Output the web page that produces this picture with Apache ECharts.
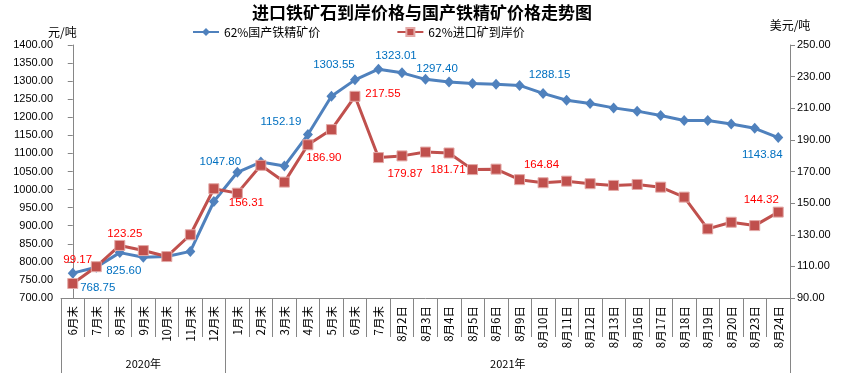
<!DOCTYPE html>
<html><head><meta charset="utf-8">
<script src="https://cdn.jsdelivr.net/npm/echarts@6/dist/echarts.min.js"></script>
<style>html,body{margin:0;padding:0;background:#fff}#c{width:844px;height:373px}</style>
</head><body><div id="c"></div>
<script>
const categories = ['6月末','7月末','8月末','9月末','10月末','11月末','12月末','1月末','2月末','3月末','4月末','5月末','6月末','7月末','8月2日','8月3日','8月4日','8月5日','8月6日','8月9日','8月10日','8月11日','8月12日','8月13日','8月16日','8月17日','8月18日','8月19日','8月20日','8月23日','8月24日'];
const domesticPrice = [768.75,785,825.60,812.6,814.6,829,967,1047.80,1076,1065,1152.19,1258,1303.55,1333,1323.01,1305,1297.40,1293.5,1291.5,1288.15,1266,1247,1238,1226,1217,1205,1191,1191,1181.5,1169.5,1143.84];
const importPrice = [99.17,109.8,123.25,120.0,116.2,130.0,159.1,156.31,173.9,163.3,186.90,196.5,217.55,178.8,179.87,182.3,181.71,171.2,171.5,164.84,162.9,163.9,162.3,161.2,161.8,160.1,153.8,133.7,137.9,135.8,144.32];
const yearGroups = ['2020年','2021年'];
const yearGroupSizes = [7, 24];
const seriesNames = ['62%国产铁精矿价','62%进口矿到岸价'];
const leftAxisRange = [700, 1400, 50];
const rightAxisRange = [90, 250, 20];

// label placement (style only): index -> [dx, dy]
const domesticLabelOffsets = {0:[25,15],2:[4,18],7:[-17,-10],10:[-27,-13],12:[-21,-15],14:[-6,-17],16:[-12,-13],19:[30,-11],30:[-16,17]};
const importLabelOffsets = {0:[5,-24],2:[5,-12],7:[9,10],10:[16,13],12:[28,-2],14:[3,18],16:[-1,17],19:[22,-15],30:[-17,-12]};

function buildData(values, offsets, color) {
  return values.map((v, i) => {
    const o = offsets[i];
    if (!o) return v;
    return {value: v, label: {show: true, position: 'inside', offset: o, color: color,
      fontSize: 11.5, fontFamily: 'Liberation Sans', align: 'center', verticalAlign: 'middle',
      formatter: p => p.value.toFixed(2)}};
  });
}

// group boundaries & centres (category index space)
const groupTicks = [-0.5];
const groupCenters = [];
let acc = -0.5;
yearGroupSizes.forEach(n => { groupCenters.push(acc + n / 2); acc += n; groupTicks.push(acc); });

const axisGray = '#868686';
const chart = echarts.init(document.getElementById('c'), null, {renderer: 'canvas'});
chart.setOption({
  animation: false,
  backgroundColor: '#fff',
  title: {text: '进口铁矿石到岸价格与国产铁精矿价格走势图', left: 'center', top: -1,
    textStyle: {fontSize: 17, fontWeight: 'bold', color: '#000', fontFamily: 'Noto Sans CJK SC'}},
  legend: {left: 187, top: 21, itemWidth: 26, itemHeight: 10, itemGap: 76,
    textStyle: {fontSize: 12, color: '#000', fontFamily: 'Noto Sans CJK SC'},
    data: seriesNames},
  grid: {left: 61, right: 54, top: 45, bottom: 75, containLabel: false},
  xAxis: [{
    type: 'category', data: categories, boundaryGap: true, position: 'bottom',
    axisLine: {lineStyle: {color: axisGray, width: 1}},
    axisTick: {show: true, length: 39, interval: 0, lineStyle: {color: axisGray}},
    axisLabel: {interval: 0, rotate: 90, margin: 8, fontSize: 11.5, color: '#000', fontFamily: 'Noto Sans CJK SC'},
    splitLine: {show: false}
  }, {
    type: 'value', min: -0.5, max: categories.length - 0.5, position: 'bottom',
    axisLine: {show: false},
    axisTick: {show: true, length: 76, customValues: groupTicks, lineStyle: {color: axisGray}},
    axisLabel: {show: true, margin: 60, customValues: groupCenters, fontSize: 11, color: '#000',
      fontFamily: 'Noto Sans CJK SC',
      formatter: v => { const k = groupCenters.findIndex(c => Math.abs(c - v) < 1e-6); return k >= 0 ? yearGroups[k] : ''; }},
    splitLine: {show: false}
  }],
  yAxis: [{
    type: 'value', position: 'left', min: leftAxisRange[0], max: leftAxisRange[1], interval: leftAxisRange[2],
    name: '元/吨', nameLocation: 'end', nameGap: 13,
    nameTextStyle: {fontSize: 12, color: '#000', align: 'right', verticalAlign: 'middle', padding: [0, -4, 0, 0], fontFamily: 'Noto Sans CJK SC'},
    axisLine: {show: true, lineStyle: {color: axisGray}},
    axisTick: {show: true, length: 5, lineStyle: {color: axisGray}},
    axisLabel: {margin: 8, fontSize: 11, color: '#000', fontFamily: 'Liberation Sans', formatter: v => v.toFixed(2)},
    splitLine: {show: false}
  }, {
    type: 'value', position: 'right', min: rightAxisRange[0], max: rightAxisRange[1], interval: rightAxisRange[2],
    name: '美元/吨', nameLocation: 'end', nameGap: 20,
    nameTextStyle: {fontSize: 12, color: '#000', align: 'center', verticalAlign: 'middle', fontFamily: 'Noto Sans CJK SC'},
    axisLine: {show: true, lineStyle: {color: axisGray}},
    axisTick: {show: true, length: 5, lineStyle: {color: axisGray}},
    axisLabel: {margin: 7, fontSize: 11, color: '#000', fontFamily: 'Liberation Sans', formatter: v => v.toFixed(2)},
    splitLine: {show: false}
  }],
  series: [{
    name: seriesNames[0], type: 'line', xAxisIndex: 0, yAxisIndex: 0,
    data: buildData(domesticPrice, domesticLabelOffsets, '#0070C0'),
    symbol: 'diamond', symbolSize: [10, 11],
    lineStyle: {color: '#4F81BD', width: 3},
    itemStyle: {color: '#4F81BD', borderColor: '#4F81BD', borderWidth: 0},
    label: {show: false}, z: 2
  }, {
    name: seriesNames[1], type: 'line', xAxisIndex: 0, yAxisIndex: 1,
    data: buildData(importPrice, importLabelOffsets, '#FF0000'),
    symbol: 'rect', symbolSize: 10,
    lineStyle: {color: '#C0504D', width: 3},
    itemStyle: {color: '#C0504D', borderColor: '#E3A9A7', borderWidth: 1},
    label: {show: false}, z: 3
  }]
});
</script>
</body></html>
